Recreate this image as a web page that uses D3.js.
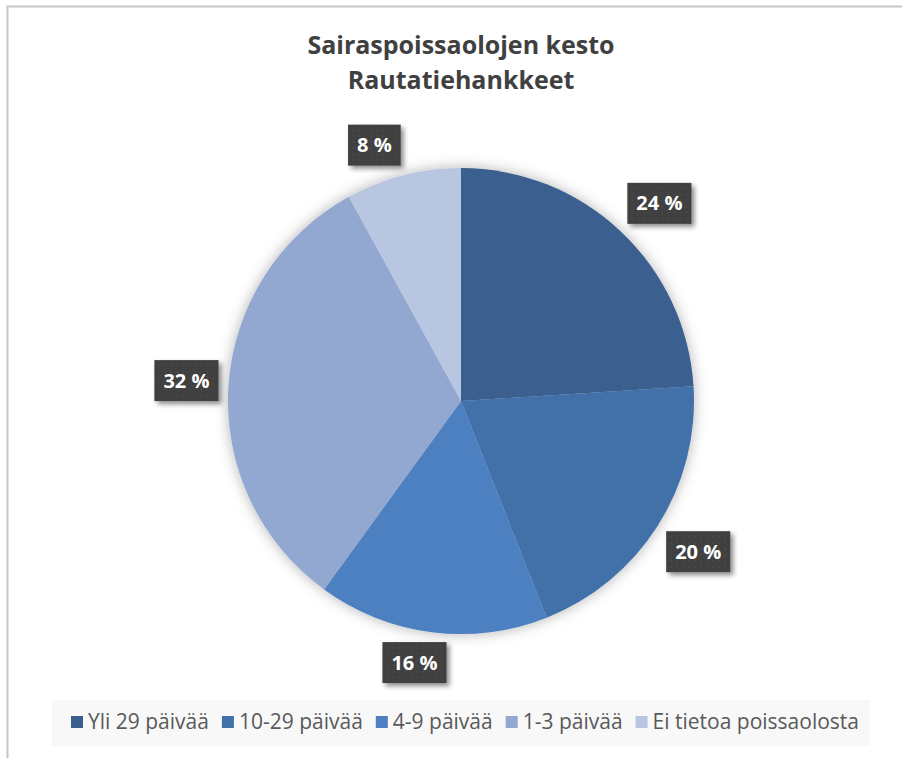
<!DOCTYPE html>
<html>
<head>
<meta charset="utf-8">
<script src="https://cdn.jsdelivr.net/npm/d3@7"></script>
<style>
  body { margin: 0; background: #fff; }
  svg { display: block; font-family: "Open Sans", "Noto Sans", sans-serif; }
</style>
</head>
<body>
<div id="wrapper"></div>
<script>
const categories = ["Yli 29 päivää", "10-29 päivää", "4-9 päivää", "1-3 päivää", "Ei tietoa poissaolosta"]
const values = [24, 20, 16, 32, 8]
const colors = ["#3a5e8e", "#4271a9", "#4e80c1", "#93a8d1", "#b9c6e1"]
const titleLines = ["Sairaspoissaolojen kesto", "Rautatiehankkeet"]

function drawPie(){
    const dimensions = { width: 902, height: 758, cx: 461, cy: 401, radius: 233 }

    const data = categories.map((c, i) => ({ name: c, value: values[i], color: colors[i] }))

    const wrapper = d3.select("#wrapper")
        .append("svg")
        .attr("width", dimensions.width)
        .attr("height", dimensions.height)

    const defs = wrapper.append("defs")
    defs.append("filter").attr("id", "pieShadow")
        .attr("x", "-20%").attr("y", "-20%").attr("width", "140%").attr("height", "140%")
        .append("feDropShadow")
        .attr("dx", 0).attr("dy", 0).attr("stdDeviation", 7)
        .attr("flood-color", "#000").attr("flood-opacity", 0.3)
    defs.append("filter").attr("id", "boxShadow")
        .attr("x", "-30%").attr("y", "-30%").attr("width", "160%").attr("height", "160%")
        .append("feDropShadow")
        .attr("dx", 3).attr("dy", 3).attr("stdDeviation", 2.5)
        .attr("flood-color", "#000").attr("flood-opacity", 0.45)
    const pat = defs.append("pattern").attr("id", "dots")
        .attr("width", 6).attr("height", 6).attr("patternUnits", "userSpaceOnUse")
    pat.append("rect").attr("width", 6).attr("height", 6).attr("fill", "#3f3f3f")
    pat.append("circle").attr("cx", 3).attr("cy", 3).attr("r", 0.9).attr("fill", "#4c4c4c")

    // chart area border
    wrapper.append("rect")
        .attr("x", 7.5).attr("y", 6.5)
        .attr("width", 910).attr("height", 770)
        .attr("fill", "none").attr("stroke", "#c6c6c6").attr("stroke-width", 2)

    // title
    wrapper.append("g").selectAll("text")
        .data(titleLines)
        .join("text")
        .attr("x", dimensions.cx)
        .attr("y", (d, i) => 54 + i * 35)
        .attr("text-anchor", "middle")
        .attr("fill", "#404040")
        .style("font-size", "25px")
        .style("font-weight", "bold")
        .text(d => d)

    const pie = d3.pie().sort(null).value(d => d.value)
    const arcs = pie(data)
    const arc = d3.arc().innerRadius(0).outerRadius(dimensions.radius)

    const bounds = wrapper.append("g")
        .attr("transform", `translate(${dimensions.cx},${dimensions.cy})`)

    bounds.append("g")
        .attr("filter", "url(#pieShadow)")
        .selectAll("path")
        .data(arcs)
        .join("path")
        .attr("d", arc)
        .attr("fill", d => d.data.color)

    // labels, outside end
    const labelArc = d3.arc().innerRadius(dimensions.radius + 10).outerRadius(dimensions.radius + 10)
    const clamp = v => Math.max(-1, Math.min(1, v))

    const labels = bounds.append("g")
        .selectAll("g")
        .data(arcs)
        .join("g")

    labels.each(function(d){
        const g = d3.select(this)
        const txt = g.append("text")
            .attr("text-anchor", "middle")
            .attr("dy", "0.35em")
            .attr("fill", "#fff")
            .style("font-size", "20px")
            .style("font-weight", "bold")
            .text(d.data.value + " %")
        const bb = txt.node().getBBox()
        const w = bb.width + 18
        const h = 41
        const a = (d.startAngle + d.endAngle) / 2
        const [ax, ay] = labelArc.centroid(d)
        const x = ax + w / 2 * clamp(Math.sin(a) * 4)
        const y = ay + h / 2 * clamp(-Math.cos(a) * 4)
        g.attr("transform", `translate(${x},${y})`)
        g.insert("rect", "text")
            .attr("x", -w / 2).attr("y", -h / 2)
            .attr("width", w).attr("height", h)
            .attr("fill", "url(#dots)")
            .attr("filter", "url(#boxShadow)")
    })

    // legend
    const legend = wrapper.append("g")
    legend.append("rect")
        .attr("x", 52).attr("y", 700)
        .attr("width", 818).attr("height", 46)
        .attr("fill", "#f8f8f8")

    const items = legend.append("g")
        .selectAll("g")
        .data(data)
        .join("g")
    items.append("rect")
        .attr("width", 12).attr("height", 12)
        .attr("y", -6)
        .attr("fill", d => d.color)
    items.append("text")
        .attr("x", 17)
        .attr("dy", "0.35em")
        .attr("fill", "#595959")
        .style("font-size", "21px")
        .text(d => d.name)

    const gap = 13
    const widths = []
    items.each(function(){ widths.push(this.getBBox().width) })
    const total = d3.sum(widths) + gap * (widths.length - 1)
    let pos = dimensions.cx + 4 - total / 2
    items.attr("transform", (d, i) => {
        const t = `translate(${pos},722)`
        pos += widths[i] + gap
        return t
    })
}

drawPie()
</script>
</body>
</html>
